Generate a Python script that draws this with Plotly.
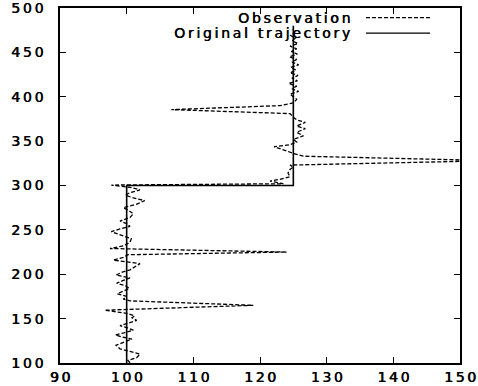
import plotly.graph_objects as go

# Observation (dashed) series: x position, y value
obs_x = [100.5, 100.2, 101.5, 102.0, 100.5, 99.0, 98.4, 99.5, 100.8, 99.5,
         98.3, 99.6, 101.0, 100.0, 99.0, 100.3, 101.5, 100.8, 101.2, 100.0,
         96.7, 119.0, 100.5, 99.5, 100.0, 98.6, 99.5, 100.4, 99.8, 98.5,
         99.5, 100.5, 98.4, 99.2, 100.5, 101.2, 102.0, 100.0, 98.0, 99.5,
         100.2, 124.0, 97.5, 99.5, 100.5, 100.7, 99.5, 98.5, 97.7, 99.0,
         100.5, 100.0, 99.0, 100.5, 101.0, 100.3, 99.5, 101.5, 102.7, 101.0,
         99.8, 100.5, 102.0, 100.5, 97.7,
         123.5, 121.5, 123.0, 124.5, 124.2, 124.5, 125.0, 124.5, 155.0, 126.5,
         125.0, 124.0, 122.1, 124.5, 125.5, 125.0, 126.5, 125.5, 126.8, 125.5,
         126.8, 125.5, 125.0, 124.5, 106.7, 123.0, 125.0, 125.5, 125.0,
         124.5, 125.8, 124.8, 125.5, 124.3, 125.6, 124.8, 125.7, 124.5, 125.4,
         124.6, 125.8, 124.8, 125.5, 124.4, 125.6, 124.7, 125.5, 124.5, 125.7,
         124.8, 125.3, 124.6, 125.2, 124.8]
obs_y = [100, 103, 106, 110, 113, 116, 120, 123, 127, 129,
         131.5, 134, 137, 140, 142, 145, 148, 151, 153, 156,
         159.5, 165, 170, 172, 175, 178, 181, 184, 187, 190,
         193, 196, 199, 202, 205, 208, 212, 214, 216, 219,
         222, 225, 229, 232, 236, 240, 243, 246, 248, 251,
         254, 257, 260, 264, 268, 272, 275, 279, 283, 286,
         289, 292, 295, 298, 300.5,
         302, 305, 307, 310, 314, 318, 321, 323, 328, 333,
         336, 339, 343.7, 346, 349, 352, 356, 360, 364, 367,
         371, 374, 377, 381, 385.5, 390, 393, 397, 400,
         403, 406, 409, 412, 415, 418, 421, 424, 427, 430,
         433, 436, 439, 442, 445, 448, 451, 454, 457, 460,
         463, 466, 469, 472, 476]

# Original trajectory (solid)
traj_x = [100, 100, 125, 125]
traj_y = [100, 300, 300, 480]

x_ticks = [90, 100, 110, 120, 130, 140, 150]
y_ticks = [100, 150, 200, 250, 300, 350, 400, 450, 500]
series_names = ["Observation", "Original trajectory"]

FONT = "DejaVu Sans"
SHADOW = "0.6px 0px 0px black"


def spaced(t, ls):
    # letter spacing between characters only (no trailing space)
    return '<span style="letter-spacing:%.1fpx">%s</span>%s' % (ls, t[:-1], t[-1])


fig = go.Figure()
fig.add_trace(go.Scatter(x=obs_x, y=obs_y, mode="lines", name=series_names[0],
                         line=dict(color="black", width=1.3, dash="4px,2px")))
fig.add_trace(go.Scatter(x=traj_x, y=traj_y, mode="lines", name=series_names[1],
                         line=dict(color="black", width=1.6)))

axis_common = dict(showgrid=False, zeroline=False, showline=True, linecolor="black",
                   linewidth=1.6, mirror="ticks", ticks="inside", ticklen=6,
                   tickwidth=1.2, tickcolor="black", automargin=False,
                   ticklabeloverflow="allow",
                   tickfont=dict(family=FONT, size=14, color="black", shadow=SHADOW))

fig.update_xaxes(range=[90, 150], tickvals=x_ticks, ticklabelstandoff=0,
                 ticktext=[spaced(str(v), 2.6) for v in x_ticks], **axis_common)
fig.update_yaxes(range=[100, 500], tickvals=y_ticks, ticklabelstandoff=12,
                 ticktext=[spaced(str(v), 2.8) for v in y_ticks], **axis_common)

# gnuplot-style key: label right-aligned, sample line to the right
key_rows = [(series_names[0], 0.973, "4px,2px"), (series_names[1], 0.929, "solid")]
for name, yy, dash in key_rows:
    fig.add_annotation(x=0.7275, y=yy, xref="paper", yref="paper", xanchor="right",
                       yanchor="middle", showarrow=False, borderpad=0,
                       text=spaced(name, 2.7),
                       font=dict(family=FONT, size=14, color="black", shadow=SHADOW))
    fig.add_shape(type="line", xref="paper", yref="paper", x0=0.765, x1=0.925,
                  y0=yy, y1=yy, line=dict(color="black", width=1.2, dash=dash))

fig.update_layout(width=478, height=386, showlegend=False,
                  margin=dict(l=60, r=18, t=8, b=23),
                  plot_bgcolor="white", paper_bgcolor="white",
                  font=dict(family=FONT, color="black"))

fig.write_html("out.html")
